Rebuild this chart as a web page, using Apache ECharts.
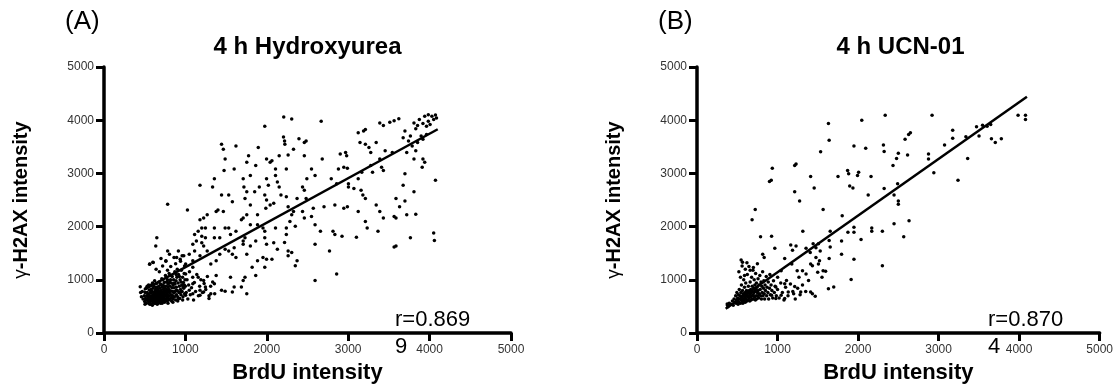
<!DOCTYPE html>
<html>
<head>
<meta charset="utf-8">
<script src="https://cdn.jsdelivr.net/npm/echarts@6/dist/echarts.min.js"></script>
<style>
  html, body { margin: 0; padding: 0; background: #fff; }
  #chart { width: 1116px; height: 389px; }
</style>
</head>
<body>
<div id="chart"></div>
<script>
// tick values shared by both panels
const axisTicks = [0, 1000, 2000, 3000, 4000, 5000];

// (A) 4 h Hydroxyurea: [BrdU, gamma-H2AX] per cell
const hydroxyureaCells = [
  // dense low cluster
  [480,640],[495,700],[500,590],[505,760],[510,650],[515,620],[520,560],[525,700],[530,880],[535,640],
  [540,600],[545,730],[550,670],[552,560],[555,810],[560,620],[565,700],[568,590],[570,760],[575,650],
  [580,540],[582,900],[585,700],[590,610],[592,780],[595,660],[600,570],[602,840],[605,720],[610,640],
  [612,600],[615,760],[618,690],[620,560],[622,980],[625,650],[628,720],[630,800],[632,610],[635,680],
  [638,750],[640,580],[642,860],[645,700],[648,640],[650,770],[652,600],[655,720],[658,660],[660,820],
  [662,560],[665,740],[668,690],[670,620],[672,880],[675,780],[678,650],[680,710],[682,600],[685,840],
  [688,680],[690,760],[692,630],[695,920],[698,700],[700,580],[702,800],[705,660],[708,740],[710,1020],
  [712,620],[715,860],[718,700],[720,770],[722,640],[725,900],[728,720],[730,600],[732,820],[735,680],
  [738,760],[740,950],[742,650],[745,840],[748,720],[750,620],[752,790],[755,1080],[758,700],[760,880],
  [762,640],[765,760],[768,960],[770,690],[772,820],[775,600],[778,740],[780,1000],[782,660],[785,870],
  [788,780],[790,700],[792,930],[795,620],[798,820],[800,1120],[805,700],[808,760],[810,880],[815,650],
  [818,1000],[820,790],[825,720],[828,940],[830,600],[835,850],[838,1060],[840,700],[845,780],[848,900],
  [850,640],[855,1000],[858,750],[860,850],[865,680],[870,1150],[872,920],[875,780],[880,620],[885,980],
  [888,860],[890,720],[895,1050],[900,800],[905,680],[910,940],[915,1100],[920,760],[925,880],[930,650],
  [935,1000],[940,820],[945,720],[950,1180],[955,900],[960,780],[965,1050],[970,680],[975,950],[980,840],
  [985,1120],[990,740],[995,1000],[1000,880],[445,870],[450,760],[460,680],[470,780],
  [515,840],[530,760],[548,900],[562,540],[578,820],[596,940],[614,880],[628,560],[646,930],[664,610],
  [676,960],[694,560],[706,900],[724,1000],[744,580],[766,1040],[786,560],[806,960],[826,1080],[846,580],
  [866,940],[886,1100],[906,600],[926,1060],[946,960],[966,620],[986,900],[536,690],[586,760],[636,830],
  [686,740],[736,880],[786,920],[836,660],[886,800],[936,760],[504,540],[594,520],[654,540],[714,560],
  [1010,760],[1020,1000],[1030,640],[1040,900],[1050,1150],[1060,720],[1075,850],[1090,1050],[1100,620],
  [1110,950],[1125,780],[1140,1100],[1160,700],[1175,880],[1190,1000],[1210,760],[1230,930],[1250,820],
  [1270,1060],[1290,700],[1310,880],[1335,960],[1360,740],
  [560,1290],[600,1330],[640,1200],[680,1150],[700,1400],[720,1260],[760,1350],[780,1180],[820,1250],
  [860,1420],[880,1300],[900,1200],[940,1350],[960,1450],[990,1260],
  [649,1789],[636,1635],[782,1542],[804,1481],[914,1542],[892,1419],[936,1388],[561,1296],[605,1326],[760,1357],
  [782,2419],
  // spread above and along the fit
  [1003,1111],[1091,1234],[1157,1049],[1224,987],[1356,925],[1091,925],[970,864],[1047,802],[1179,709],
  [1003,709],[914,647],[1003,1296],[980,1450],[1091,1357],[1179,1450],[1268,1542],[1113,1542],[1312,1296],
  [1378,1357],[1422,1481],[1488,1573],[1532,1542],
  [1312,740],[1290,647],[1246,864],[1179,802],[1091,740],[1224,771],
  [1895,3486],[1776,3332],[1754,3208],[1864,3147],[1798,2962],[1710,2900],[1719,2746],[1754,2653],[1851,2653],
  [1908,2746],[1621,3517],[1599,3085],[1444,3548],[1466,3455],[1488,3270],[1475,3054],[1334,2746],[1356,2900],
  [1179,2777],[1444,2592],[1532,2592],[1577,2468],[1732,2530],[1798,2406],[1886,2221],[1754,2221],[1710,2160],
  [1688,2129],[1798,2036],[1886,2036],[1953,1975],[1975,1913],[1975,1789],[1864,1728],[1798,1635],[1732,1789],
  [1710,1728],[1710,1666],[1621,1913],[1532,1975],[1488,1975],[1554,1851],[1599,1604],[1577,1481],[1621,1419],
  [1754,1481],[1886,1357],[1975,1234],[1953,1419],[1820,1234],[1864,1080],[1732,1049],[1710,987],[1554,1049],
  [1599,864],[1577,771],[1688,864],[1754,740],[1444,802],[1488,783],[1378,1080],[1356,1789],[1378,2283],
  [1400,2313],[1356,1975],[1422,1789],[1466,2283],[1268,2221],[1224,2160],[1179,2129],[1246,1975],[1201,1975],
  [1157,1913],[1113,1851],[1135,1728],[1091,1666],[1201,1697],[1224,1635],[1246,1789],[1201,1820],[1047,1481],
  [1025,2313],
  [2328,3455],[2262,3344],[2240,3085],[2218,3610],[2205,3684],[2222,3548],[2152,3332],[2063,3239],[2041,3208],
  [1997,3270],[2107,3085],[2107,2962],[2130,2838],[2152,2746],[2174,2592],[1997,2900],[2019,2777],[1975,2592],
  [1997,2499],[2041,2406],[2085,2437],[2240,2561],[2262,2375],[2372,2530],[2328,2283],[2284,2098],[2240,1975],
  [2240,1851],[2350,2005],[2306,2221],[2107,1975],[2085,1697],[1997,1666],[2130,1573],[2063,1388],[1997,1388],
  [2262,1542],[2262,1450],[2372,1357],[2350,1265],[2306,1511],[2218,1700],[1988,2344],
  [3123,3764],[3145,3579],[3211,3548],[3255,3486],[3344,3579],[3277,3394],[3454,3424],[3542,3394],[3388,3270],
  [3410,3116],[3432,3054],[3277,3147],[3299,3023],[3167,3023],[3123,2900],[2968,3394],[2981,3332],[2902,3363],
  [2946,3116],[2880,3085],[2990,3098],[2681,3270],[2593,2962],[2792,2900],[2858,2807],[3003,2807],[3003,2746],
  [3070,2715],[3158,2684],[3180,2592],[3211,2530],[3344,2406],[3388,2283],[3432,2160],[3123,2283],[2990,2375],
  [2946,2344],[2836,2406],[2703,2375],[2571,2344],[2549,2190],[2593,2036],[2659,1913],[2813,1913],[2924,1820],
  [3101,1801],[3211,2098],[3233,1975],[3366,1913],[2836,1851],[2770,1542],[2593,1666],[2858,1111],[2593,987],
  [2461,2160],[2439,2283],[2483,2530],[2461,2684],[2439,2746],[2492,2900],[2549,3085],[2461,3332],[2483,3610],
  [2461,3579],[2395,3653],
  [2208,4060],[2306,4023],[2668,3980],[1975,3887],[3622,4029],[3564,3992],[3511,3961],[3388,3949],[3432,3900],
  [3808,3949],[3874,4011],[3940,4072],[3984,4103],[4028,4072],[4072,4097],[4050,4011],[3984,3980],[3918,3937],
  [3852,3900],[3962,3887],[3830,3838],[4006,3918],[4085,4041],
  [3189,3795],[3211,3826],[3697,3795],[3764,3702],[3675,3671],[3741,3610],[3896,3702],[3962,3733],[3918,3641],
  [3852,3579],[3786,3517],[3830,3424],[3719,3394],[3808,3270],[3918,3270],[3909,3116],[3940,3208],[4072,2869],
  [3697,2992],[3675,2777],[3808,2653],[3587,2530],[3697,2480],[3631,2375],[3719,2221],[3830,2234],[3564,2190],
  [3587,2160],[3764,1789],[4050,1882],[4059,1740],[3587,1635],[3564,1617]
];
const hydroxyureaFit = [[490, 810], [4100, 3830]];

// (B) 4 h UCN-01
const ucnCells = [
  [380,520],[400,560],[420,540],[440,600],[450,520],[460,640],[470,580],[480,700],[485,560],[490,620],
  [495,760],[500,600],[505,660],[510,540],[515,720],[520,580],[525,820],[530,640],[535,700],[540,560],
  [545,760],[550,620],[552,900],[555,680],[560,600],[565,800],[568,700],[570,560],[575,740],[578,640],
  [580,1000],[585,700],[588,600],[590,860],[595,660],[598,760],[600,580],[605,940],[608,700],[610,640],
  [615,800],[618,720],[620,600],[625,1100],[628,680],[630,760],[635,620],[638,880],[640,700],[645,1250],
  [648,660],[650,800],[655,600],[658,740],[660,960],[665,680],[668,820],[670,620],[675,760],[678,1050],
  [680,700],[685,880],[688,640],[690,780],[695,1180],[698,720],[700,640],[705,840],[708,760],[710,1000],
  [715,680],[718,900],[720,780],[725,620],[728,1120],[730,820],[735,700],[738,940],[740,640],[745,860],
  [748,760],[750,1300],[755,700],[758,1020],[760,800],[765,660],[770,900],[775,740],[780,1080],[785,820],
  [790,700],[795,960],[800,640],[805,880],[810,760],[815,1150],[820,700],[825,840],[830,980],[835,740],
  [840,640],[845,900],[850,800],[860,1060],[865,700],[870,860],[880,760],[885,960],[890,640],[900,840],
  [905,1100],[910,720],[920,900],[930,800],[940,660],[950,980],[960,760],[970,880],[985,700],[1000,820],
  [1020,660],[1040,940],[1060,760],[1080,620],[1100,860],[1130,700],[1160,920],[1190,780],[1220,640],
  [1250,840],[1280,720],[1310,900],[1350,780],
  [548,1370],[565,1330],[600,1200],[520,1150],[560,1260],[620,1320],[660,1180],[700,1230],[590,1080],[540,1050],
  [375,543],[384,494],
  // scattered cells
  [2337,4091],[2919,4091],[2046,3998],[3987,4091],[4079,4091],[4079,4011],[1632,3937],[1641,3622],[1535,3406],
  [1949,3517],[2095,3474],[2315,3536],[2324,3412],[2500,3381],[2478,3282],[2434,3147],[2628,3733],[2650,3764],
  [2584,3641],[2615,3344],[3175,3813],[3175,3659],[3339,3690],[3471,3875],[3546,3906],[3603,3887],[3647,3918],
  [3502,3702],[3656,3653],[3704,3579],[3779,3653],[3074,3536],[2875,3363],[2875,3270],[2941,3011],[3361,3282],
  [3241,2869],[2633,2110],[2567,1808],[2302,1913],[2170,1975],[2170,1913],[2037,1758],[1949,1987],[1874,1894],
  [1949,1894],[1803,2203],[1949,1388],[1914,1006],[2302,1265],[2447,2055],[2324,2715],[2447,2592],[2491,2807],
  [2500,2480],[2500,2419],[2126,2592],[2161,2943],[2007,3023],[1993,2962],[1870,3054],[1883,2992],[1896,2764],
  [1936,2727],[1751,2943],[1566,2320],[1455,2727],[1411,2943],[1274,2480],[1213,2653],[1230,3178],[1213,3147],
  [935,3097],[900,2850],[922,2869],[723,2320],[684,2128],[789,1808],[926,1820],[966,1592],[816,1481],[834,1419],
  [1314,1913],[1164,1654],[1186,1555],[1230,1635],[1089,1400],[1354,1592],[1442,1678],[1508,1678],[1477,1604],
  [1406,1511],[1530,1542],[1654,1913],[1641,1740],[1654,1617],[1641,1400],[1795,1728],[1795,1481],[1477,1419],
  [1433,1265],[1411,1296],[1521,1357],[1508,1296],[1566,1172],[1552,1049],[1597,1160],[1499,1142],[1385,987],
  [1310,1172],[1354,1111],[1244,1172],[1266,1049],[1213,876],[1288,771],[1200,740],[1133,771],[1411,771],
  [1433,740],[1468,691],[1632,833],[1698,864],[1177,1296],[1045,1172],[1001,1049],[1111,987],[1089,925],
  [979,864],[1045,709],[1089,647],[926,709],[979,647]
];
const ucnFit = [[356, 457], [4097, 4439]];

const panels = [
  { label: '(A)', title: '4 h Hydroxyurea', cells: hydroxyureaCells, fit: hydroxyureaFit, r: ['r=0.869', '9'] },
  { label: '(B)', title: '4 h UCN-01', cells: ucnCells, fit: ucnFit, r: ['r=0.870', '4'] }
];

const FONT = '"Liberation Sans", Arial, Helvetica, sans-serif';
const grids = [
  { left: 104, top: 67, width: 407, height: 270 },
  { left: 697, top: 67, width: 407, height: 270 }
];

const axisBase = {
  min: axisTicks[0],
  max: axisTicks[axisTicks.length - 1],
  interval: axisTicks[1] - axisTicks[0],
  splitLine: { show: false },
  axisLine: { show: true, lineStyle: { color: '#000', width: 3.5 } },
  axisTick: { show: true, length: 8, lineStyle: { color: '#000', width: 3 } },
  nameLocation: 'middle',
  nameTextStyle: { color: '#000', fontWeight: 'bold', fontFamily: FONT }
};
const tickLabel = { color: '#333', fontSize: 12, fontFamily: FONT, formatter: v => String(v) };

const chart = echarts.init(document.getElementById('chart'), null, { renderer: 'canvas' });

const option = {
  animation: false,
  backgroundColor: '#fff',
  grid: grids,
  xAxis: grids.map((g, i) => ({
    ...axisBase,
    type: 'value',
    gridIndex: i,
    name: 'BrdU intensity',
    nameGap: 29,
    nameTextStyle: { ...axisBase.nameTextStyle, fontSize: 22 },
    axisLabel: { ...tickLabel, margin: 11 }
  })),
  yAxis: grids.map((g, i) => ({
    ...axisBase,
    type: 'value',
    gridIndex: i,
    name: '{g|γ}-H2AX intensity',
    nameGap: 73,
    nameRotate: 90,
    nameTextStyle: {
      ...axisBase.nameTextStyle,
      fontSize: 20,
      rich: { g: { fontSize: 19, fontWeight: 'normal', color: '#000', fontFamily: FONT } }
    },
    axisLabel: { ...tickLabel, margin: 10 }
  })),
  series: panels.flatMap((p, i) => [
    {
      type: 'scatter',
      xAxisIndex: i,
      yAxisIndex: i,
      data: p.cells,
      symbolSize: 3.5,
      itemStyle: { color: '#000', opacity: 1 },
      silent: true
    },
    {
      type: 'line',
      xAxisIndex: i,
      yAxisIndex: i,
      data: p.fit,
      symbol: 'none',
      lineStyle: { color: '#000', width: 2.5 },
      silent: true,
      z: 3
    }
  ]),
  graphic: panels.flatMap((p, i) => {
    const g = grids[i];
    return [
      {
        type: 'text', left: g.left - 39, top: 9,
        style: { text: p.label, font: '26px ' + FONT, fill: '#000' }
      },
      {
        type: 'text', x: g.left + g.width / 2, y: 35,
        style: { text: p.title, font: 'bold 24px ' + FONT, fill: '#000', align: 'center' }
      },
      {
        type: 'text', x: g.left + g.width * 0.715, y: 306,
        style: { text: p.r.join('\n'), font: '22px ' + FONT, lineHeight: 27, fill: '#000' }
      }
    ];
  })
};

chart.setOption(option);
</script>
</body>
</html>
